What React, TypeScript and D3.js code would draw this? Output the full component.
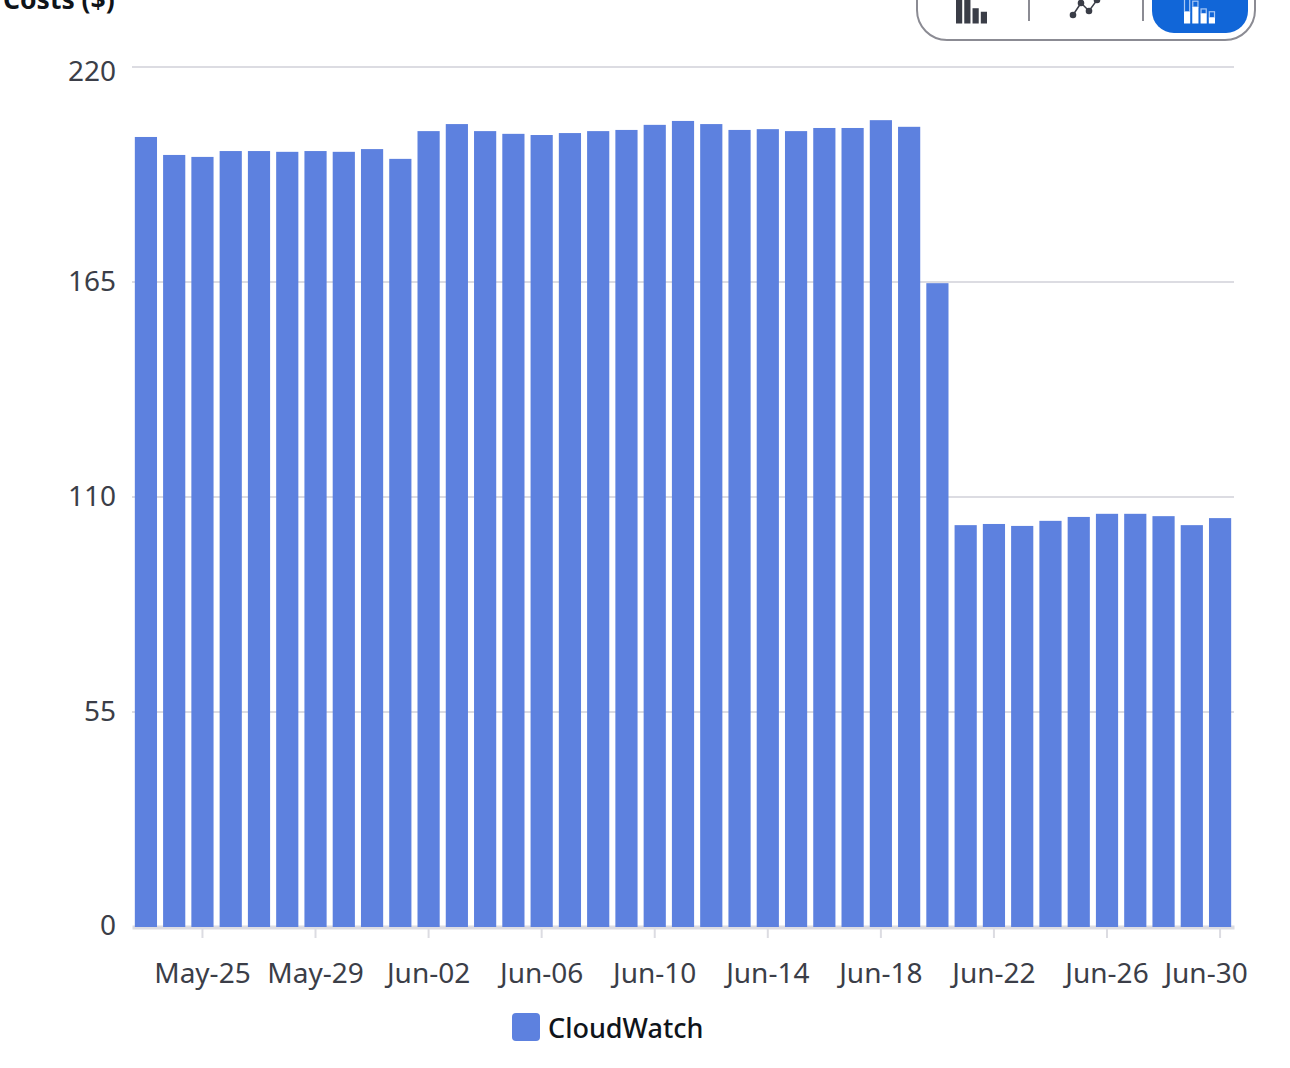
import * as d3 from "d3";
import React, { useEffect, useRef } from "react";

const dates = [
  "May-23", "May-24", "May-25", "May-26", "May-27", "May-28", "May-29", "May-30", "May-31",
  "Jun-01", "Jun-02", "Jun-03", "Jun-04", "Jun-05", "Jun-06", "Jun-07", "Jun-08", "Jun-09", "Jun-10",
  "Jun-11", "Jun-12", "Jun-13", "Jun-14", "Jun-15", "Jun-16", "Jun-17", "Jun-18", "Jun-19", "Jun-20",
  "Jun-21", "Jun-22", "Jun-23", "Jun-24", "Jun-25", "Jun-26", "Jun-27", "Jun-28", "Jun-29", "Jun-30",
];
const costs = [
  202.1, 197.5, 197.0, 198.5, 198.5, 198.3, 198.5, 198.3, 199.0,
  196.5, 203.6, 205.4, 203.6, 202.9, 202.6, 203.1, 203.6, 203.9, 205.2,
  206.2, 205.4, 203.9, 204.1, 203.6, 204.4, 204.4, 206.4, 204.7, 164.7,
  102.8, 103.1, 102.6, 103.9, 104.9, 105.7, 105.7, 105.1, 102.8, 104.6,
];
const yTicks = [0, 55, 110, 165, 220];
const xTicks = [
  "May-25", "May-29", "Jun-02", "Jun-06", "Jun-10", "Jun-14", "Jun-18", "Jun-22", "Jun-26", "Jun-30",
];
const barIcon = [1, 1, 0.65, 0.5];
const lineIcon = [0, 0.8, 0.27, 1];
const stackIconBase = [0.5, 0.7, 0.42, 0.25];
const stackIconTop = [1.1, 0.95, 0.62, 0.5];

const width = 1290;
const height = 1068;
const font = "'Noto Sans', sans-serif";
const textColor = "#3b3e48";
const darkText = "#0f141a";
const gridColor = "#dcdce2";
const barColor = "#5d81df";
const iconColor = "#3a3d47";

const App: React.FC = () => {
  const wrapper = useRef<SVGSVGElement>(null);

  useEffect(() => {
    if (!wrapper.current) return;
    const svg = d3.select(wrapper.current);
    svg.selectAll("*").remove();

    const x = d3.scaleBand<string>().domain(dates).range([132, 1234]).paddingInner(0.215).paddingOuter(0.1);
    const y = d3.scaleLinear().domain([0, 220]).range([927, 67]);

    // grid + y labels
    svg.append("g")
      .selectAll("line")
      .data(yTicks.slice(1))
      .join("line")
      .attr("x1", 132)
      .attr("x2", 1234)
      .attr("y1", (d) => y(d))
      .attr("y2", (d) => y(d))
      .attr("stroke", gridColor)
      .attr("stroke-width", 2);

    svg.append("g")
      .selectAll("text")
      .data(yTicks)
      .join("text")
      .attr("x", 116)
      .attr("y", (d) => y(d) + (d === 220 ? 14 : d === 0 ? 8 : 9))
      .attr("text-anchor", "end")
      .attr("font-family", font)
      .attr("font-size", 28)
      .attr("fill", textColor)
      .text((d) => d);

    // x axis
    const axis = svg.append("g")
      .attr("transform", "translate(0,927)")
      .call(d3.axisBottom(x).tickValues(xTicks).tickSizeInner(11).tickSizeOuter(0).tickPadding(25));
    axis.select(".domain")
      .attr("stroke", gridColor)
      .attr("stroke-width", 4);
    axis.selectAll(".tick line")
      .attr("stroke", gridColor)
      .attr("stroke-width", 2);
    axis.selectAll<SVGTextElement, string>(".tick text")
      .attr("font-family", font)
      .attr("font-size", 28)
      .attr("fill", textColor)
      .attr("dx", (d) => (d === "Jun-30" ? -14 : 0));

    svg.append("g")
      .selectAll("rect")
      .data(costs)
      .join("rect")
      .attr("x", (_, i) => x(dates[i]) as number)
      .attr("y", (d) => y(d))
      .attr("width", x.bandwidth())
      .attr("height", (d) => y(0) - y(d))
      .attr("fill", barColor);

    // cut off title, the screenshot starts mid-line
    svg.append("text")
      .attr("x", 3)
      .attr("y", 8.5)
      .attr("font-family", font)
      .attr("font-size", 26.5)
      .attr("font-weight", 700)
      .attr("fill", darkText)
      .text("Costs ($)");

    // chart type toggle
    const toggle = svg.append("g");
    toggle.append("rect")
      .attr("x", 917)
      .attr("y", -40)
      .attr("width", 338)
      .attr("height", 80)
      .attr("rx", 30)
      .attr("fill", "#fff")
      .attr("stroke", "#8b8b93")
      .attr("stroke-width", 2);
    toggle.selectAll("line")
      .data([1029, 1143])
      .join("line")
      .attr("x1", (d) => d)
      .attr("x2", (d) => d)
      .attr("y1", 0)
      .attr("y2", 21)
      .attr("stroke", "#8b8b93")
      .attr("stroke-width", 2);
    toggle.append("rect")
      .attr("x", 1152)
      .attr("y", -30)
      .attr("width", 96)
      .attr("height", 63)
      .attr("rx", 22)
      .attr("fill", "#1166d8");

    const iconX = d3.scaleBand<number>().domain([0, 1, 2, 3]).paddingInner(0.25);
    const iconY = d3.scaleLinear().domain([0, 1]).range([23.5, 0]);

    iconX.range([956, 987]);
    toggle.append("g")
      .selectAll("rect")
      .data(barIcon)
      .join("rect")
      .attr("x", (_, i) => iconX(i) as number)
      .attr("y", (d) => iconY(d))
      .attr("width", iconX.bandwidth())
      .attr("height", (d) => iconY(0) - iconY(d))
      .attr("fill", iconColor);

    const lineX = d3.scaleLinear().domain([0, 3]).range([1073, 1097]);
    const lineY = d3.scaleLinear().domain([0, 1]).range([15, 0]);
    toggle.append("path")
      .attr("d", d3.line<number>().x((_, i) => lineX(i)).y((d) => lineY(d))(lineIcon))
      .attr("fill", "none")
      .attr("stroke", iconColor)
      .attr("stroke-width", 1.5);
    toggle.append("g")
      .selectAll("circle")
      .data(lineIcon)
      .join("circle")
      .attr("cx", (_, i) => lineX(i))
      .attr("cy", (d) => lineY(d))
      .attr("r", 3.3)
      .attr("fill", iconColor);

    iconX.range([1184, 1215]);
    const stack = toggle.append("g");
    stack.selectAll("rect.top")
      .data(stackIconTop)
      .join("rect")
      .attr("class", "top")
      .attr("x", (_, i) => (iconX(i) as number) + 0.5)
      .attr("y", (d) => iconY(d))
      .attr("width", iconX.bandwidth() - 1)
      .attr("height", (d, i) => iconY(stackIconBase[i]) - iconY(d))
      .attr("fill", "none")
      .attr("stroke", "#a9c8f5")
      .attr("stroke-width", 1.2);
    stack.selectAll("rect.base")
      .data(stackIconBase)
      .join("rect")
      .attr("class", "base")
      .attr("x", (_, i) => iconX(i) as number)
      .attr("y", (d) => iconY(d))
      .attr("width", iconX.bandwidth())
      .attr("height", (d) => iconY(0) - iconY(d))
      .attr("fill", "#fff");

    // legend
    const legend = svg.append("g").attr("transform", "translate(512,1013)");
    legend.append("rect")
      .attr("width", 28)
      .attr("height", 28)
      .attr("rx", 4)
      .attr("fill", barColor);
    legend.append("text")
      .attr("x", 36)
      .attr("y", 25)
      .attr("font-family", font)
      .attr("font-size", 27)
      .attr("font-weight", 500)
      .attr("fill", darkText)
      .text("CloudWatch");
  }, []);

  return (
    <svg
      ref={wrapper}
      width={width}
      height={height}
      viewBox={`0 0 ${width} ${height}`}
      style={{ position: "absolute", left: 0, top: 0, background: "#fff" }}
    />
  );
};

export default App;
